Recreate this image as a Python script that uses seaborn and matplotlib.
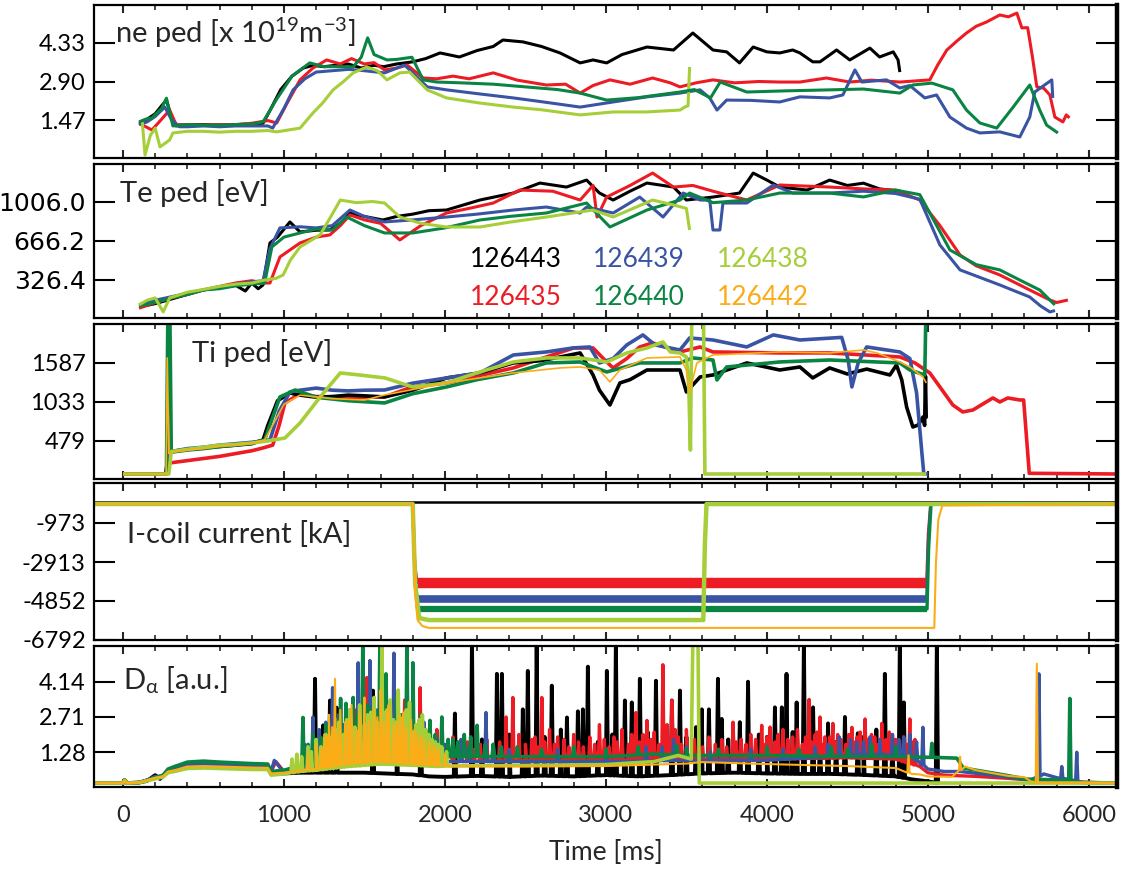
import numpy as np
import matplotlib
matplotlib.use("Agg")
import matplotlib.pyplot as plt
from matplotlib.ticker import MultipleLocator
import seaborn as sns

sns.set_style("white")
plt.rcParams['font.family'] = ['Lato', 'DejaVu Sans']
plt.rcParams['mathtext.fontset'] = 'custom'
plt.rcParams['mathtext.rm'] = 'Lato'
plt.rcParams['mathtext.it'] = 'Lato:italic'
plt.rcParams['mathtext.bf'] = 'Lato:bold'
plt.rcParams['lines.solid_capstyle'] = 'butt'

# ---------------- colours / shots ----------------
shots = ["126443", "126439", "126438", "126435", "126440", "126442"]
C_BLACK, C_BLUE, C_LIME = "#000000", "#3a54a4", "#a6ce39"
C_RED, C_GREEN, C_ORANGE = "#ed1c24", "#0a8443", "#fbad18"
shot_colors = [C_BLACK, C_BLUE, C_LIME, C_RED, C_GREEN, C_ORANGE]

x_ticks = [0, 1000, 2000, 3000, 4000, 5000, 6000]
x_range = [-180, 6175]

# ---------------- panel 1 : ne ped ----------------
ne_ticks = [1.47, 2.90, 4.33]
ne_labels = ["1.47", "2.90", "4.33"]
ne_black_t = [100,150,200,240,270,300,330,400,500,600,700,800,870,920,980,1050,1120,1180,1250,1320,1400,1480,1560,1620,1700,1800,1880,1970,2090,2200,2300,2360,2485,2600,2715,2840,2920,3005,3100,3255,3420,3540,3665,3750,3830,3915,4000,4080,4160,4205,4285,4330,4433,4515,4640,4700,4785,4815,4826]
ne_black_v = [1.35,1.5,1.7,2.0,2.21,1.6,1.25,1.3,1.3,1.28,1.3,1.32,1.35,1.9,2.6,3.1,3.4,3.5,3.45,3.5,3.55,3.4,3.5,3.45,3.55,3.63,3.75,3.96,3.81,4.05,4.2,4.44,4.37,4.2,3.96,3.59,3.7,3.59,3.9,4.18,4.07,4.7,4.07,4.0,3.59,4.18,4.0,3.96,4.07,3.96,3.63,3.63,4.07,3.7,4.14,3.81,4.0,3.7,3.25]
ne_red_t = [100,180,240,290,330,400,500,600,700,800,900,955,1020,1100,1180,1265,1350,1420,1500,1560,1625,1700,1765,1865,1950,2050,2150,2300,2450,2630,2750,2840,2920,3025,3150,3290,3400,3460,3560,3665,3800,3950,4080,4205,4370,4515,4650,4826,4920,5012,5060,5118,5180,5240,5300,5365,5447,5500,5553,5584,5620,5650,5677,5720,5758,5789,5839,5860,5880]
ne_red_v = [1.35,1.1,1.5,1.84,1.3,1.3,1.28,1.3,1.3,1.35,1.45,1.36,2.1,2.96,3.4,3.7,3.55,3.75,3.55,3.6,3.33,3.4,3.51,3.03,3.0,3.1,3.0,3.22,2.95,2.77,2.8,2.47,2.75,2.96,2.8,3.03,2.85,2.70,2.85,2.96,2.85,2.9,2.88,2.88,3.03,2.88,2.95,2.88,2.92,2.96,3.5,4.07,4.4,4.70,4.95,5.11,5.37,5.3,5.44,4.89,4.9,3.8,2.70,2.65,2.40,1.58,1.40,1.66,1.55]
ne_blue_t = [100,150,200,260,300,350,400,500,600,700,800,900,930,1000,1057,1130,1200,1300,1400,1500,1625,1750,1890,2010,2200,2425,2600,2840,3045,3255,3460,3585,3645,3690,3750,3900,4080,4205,4390,4472,4547,4590,4743,4826,4888,4981,5054,5137,5240,5323,5447,5571,5633,5664,5770,5776]
ne_blue_v = [1.3,1.4,1.6,1.95,1.5,1.22,1.22,1.25,1.22,1.25,1.25,1.25,1.17,1.9,2.59,3.0,3.25,3.3,3.35,3.3,3.22,3.51,2.70,2.59,2.45,2.29,2.15,1.95,2.14,2.33,2.47,2.59,2.29,1.84,2.21,2.2,2.14,2.33,2.29,2.4,3.33,2.88,2.96,2.66,2.75,2.29,2.40,1.58,1.17,0.99,1.03,0.84,1.58,2.51,2.96,2.29]
ne_green_t = [100,140,180,240,270,310,400,500,600,700,800,870,950,1050,1160,1250,1350,1430,1480,1520,1560,1640,1700,1795,1865,1950,2100,2300,2500,2700,2840,3005,3200,3460,3550,3650,3710,3875,4100,4390,4600,4826,4907,5025,5155,5240,5323,5428,5530,5633,5695,5738,5808]
ne_green_v = [1.4,1.5,1.55,1.9,2.28,1.25,1.3,1.28,1.28,1.3,1.32,1.4,2.2,3.1,3.59,3.45,3.45,3.44,3.8,4.52,3.9,3.7,3.72,3.8,2.96,2.88,2.85,2.8,2.7,2.6,2.47,2.21,2.3,2.51,2.6,2.29,2.88,2.51,2.55,2.59,2.62,2.47,2.77,2.84,2.59,1.84,1.36,1.17,1.95,2.77,1.84,1.28,0.99]
ne_lime_t = [120,137,170,200,230,290,310,400,500,600,700,800,900,955,1100,1180,1240,1305,1370,1430,1515,1580,1640,1720,1780,1890,2010,2217,2425,2600,2840,3045,3255,3460,3490,3510,3520]
ne_lime_v = [1.4,0.17,0.9,1.17,0.47,0.73,0.99,1.05,1.05,1.02,1.05,1.05,1.08,1.03,1.17,1.73,2.1,2.59,2.9,3.22,3.44,3.3,2.96,3.22,3.25,2.59,2.29,2.10,1.95,1.85,1.66,1.77,1.77,1.84,1.95,2.0,3.44]

# ---------------- panel 2 : Te ped ----------------
te_ticks = [326.4, 666.2, 1006.0]
te_labels = ["326.4", "666.2", "1006.0"]
te_black_t = [100,200,300,400,500,600,700,760,800,840,870,913,960,1037,1100,1200,1285,1350,1410,1500,1615,1700,1800,1900,2010,2217,2425,2590,2755,2880,2960,3045,3150,3255,3420,3500,3665,3830,3915,4000,4080,4250,4390,4500,4600,4700,4826]
te_black_v = [91,120,160,200,239,260,280,230,300,250,283,649,700,832,745,760,762,820,910,880,849,880,900,930,936,1023,1084,1171,1136,1197,1084,1023,1100,1171,1136,1023,1049,1084,1258,1197,1136,1110,1197,1150,1170,1120,1100]
te_red_t = [100,200,300,400,500,600,700,800,870,913,975,1100,1200,1285,1350,1410,1500,1600,1720,1850,2010,2150,2300,2465,2670,2840,2920,2945,3005,3150,3290,3420,3540,3665,3875,4080,4390,4600,4800,4950,5075,5200,5300,5447,5633,5758,5800,5870]
te_red_v = [80,130,170,200,240,270,300,320,300,300,527,649,700,719,800,893,850,820,675,800,910,950,997,1110,1100,1023,1150,875,1049,1150,1258,1136,1150,1100,1023,1154,1136,1120,1110,1023,800,544,450,370,239,152,130,152]
te_blue_t = [100,200,300,400,500,600,700,800,870,913,975,1100,1200,1300,1410,1500,1625,1800,2010,2200,2425,2630,2840,2880,3045,3210,3355,3480,3585,3645,3665,3708,3727,3875,4040,4160,4390,4600,4800,4950,5075,5200,5447,5633,5700,5758,5790]
te_blue_v = [110,150,180,210,240,260,290,310,320,600,780,790,780,800,936,880,832,850,875,900,936,962,910,962,910,1049,875,1084,1023,1023,762,762,997,997,1154,1084,1084,1100,1080,1030,631,414,283,178,100,48,60]
te_green_t = [100,200,300,400,500,600,700,800,880,925,1000,1100,1200,1300,1390,1500,1625,1800,2000,2217,2400,2630,2880,3025,3255,3460,3520,3665,3875,4080,4390,4600,4800,4950,5137,5300,5447,5571,5695,5789]
te_green_v = [100,130,170,200,240,250,275,290,300,614,700,736,770,762,875,800,736,736,780,849,880,910,997,788,936,1023,1084,1000,1023,1084,1084,1050,1110,1070,588,460,414,326,239,109]
te_lime_t = [100,150,200,250,290,400,480,600,700,800,880,950,995,1040,1100,1225,1300,1350,1450,1550,1625,1720,1850,2010,2217,2400,2630,2920,3045,3290,3420,3500,3520]
te_lime_v = [110,150,170,48,170,220,239,270,290,300,326,340,370,500,614,720,900,1023,1000,1010,997,875,820,788,788,830,875,936,875,1023,980,950,762]

# ---------------- panel 3 : Ti ped ----------------
ti_ticks = [479, 1033, 1587]
ti_labels = ["479", "1033", "1587"]
ti_black_t = [0,265,285,300,400,500,600,700,800,870,900,960,1037,1100,1200,1300,1400,1500,1625,1800,2010,2217,2425,2600,2715,2840,2920,2960,3025,3087,3150,3255,3460,3500,3585,3665,3875,4080,4205,4285,4390,4500,4620,4764,4805,4838,4868,4907,4940,4970,4980,4985,4990]
ti_black_v = [10,10,300,330,360,380,400,420,440,493,700,1050,1160,1130,1100,1110,1130,1120,1104,1200,1374,1445,1587,1620,1672,1729,1416,1200,990,1303,1350,1487,1487,1175,1388,1416,1587,1487,1530,1374,1516,1430,1500,1416,1558,1345,962,678,706,820,700,1400,800]
ti_blue_t = [0,265,285,300,400,500,600,700,800,870,913,970,1037,1100,1200,1300,1400,1500,1625,1800,2010,2217,2425,2630,2795,2900,2960,3045,3130,3230,3305,3460,3520,3665,3875,4040,4205,4410,4465,4505,4528,4567,4620,4826,4888,4930,4963,4975,5000]
ti_blue_v = [10,10,310,330,370,390,420,440,460,480,493,900,1175,1200,1230,1200,1190,1200,1203,1300,1374,1445,1700,1743,1800,1814,1587,1650,1843,1985,1843,1771,1942,1913,1814,1985,1913,1942,1950,1629,1246,1587,1814,1743,1650,1161,308,10,10]
ti_red_t = [0,265,285,300,400,500,600,700,800,870,930,970,1006,1100,1200,1400,1625,1800,2010,2200,2425,2630,2800,2920,3005,3045,3130,3210,3290,3460,3585,3665,4080,4390,4826,4920,5012,5075,5155,5217,5280,5404,5447,5497,5571,5595,5630,6175]
ti_red_v = [10,10,170,170,200,230,260,300,340,380,420,700,1019,1150,1110,1100,1104,1250,1303,1400,1516,1672,1800,1800,1601,1516,1650,1814,1871,1743,1814,1743,1729,1729,1672,1587,1445,1246,990,891,919,1090,1033,1090,1061,1061,20,10]
ti_green_t = [0,270,280,290,300,400,500,600,700,800,880,975,1070,1200,1400,1625,1800,2010,2200,2425,2630,2840,3005,3210,3460,3540,3665,3690,3750,4080,4390,4826,4888,4981,4990]
ti_green_v = [10,10,2600,2600,320,350,370,400,420,450,493,1104,1203,1100,1050,1019,1150,1246,1350,1445,1587,1601,1459,1587,1587,1658,1629,1345,1530,1601,1629,1587,1487,1416,2600]
ti_orange_t = [0,268,275,285,300,400,500,600,700,800,880,1000,1100,1300,1500,1625,2010,2425,2715,2840,2960,3025,3087,3255,3460,3500,3520,3565,3665,4080,4390,4600,4683,4826,4888,4970,4990]
ti_orange_v = [10,10,1658,300,320,350,370,400,420,450,493,1000,1130,1080,1060,1132,1303,1445,1516,1530,1487,1317,1487,1658,1672,1487,1175,1587,1700,1743,1729,1771,1729,1601,1530,1388,1303]
ti_lime_t = [0,285,300,400,500,600,700,800,900,1006,1100,1225,1350,1470,1627,1800,2010,2217,2425,2630,2840,3005,3130,3255,3355,3400,3460,3500,3515,3525,3535,3605,3615,4990]
ti_lime_v = [10,10,330,360,390,420,430,450,480,521,735,1104,1445,1416,1374,1246,1303,1459,1601,1658,1658,1601,1729,1800,1885,1743,1729,1672,1246,350,2600,2600,10,10]

# ---------------- panel 4 : I-coil current ----------------
ic_ticks = [-6792, -4852, -2913, -973]
ic_labels = ["-6792", "-4852", "-2913", "-973"]
ic_black_t = [-180, 6175]
ic_black_v = [60, 60]
ic_red_t = [-180, 1800, 1815, 1830, 4990, 5000, 5015, 6175]
ic_red_v = [-30, -30, -3000, -3955, -3955, -1500, -30, -30]
ic_blue_t = [-180, 1800, 1815, 1830, 4990, 5000, 5015, 6175]
ic_blue_v = [-30, -30, -3500, -4750, -4750, -2000, -30, -30]
ic_green_t = [-180, 1800, 1815, 1830, 4995, 5005, 5020, 6175]
ic_green_v = [-30, -30, -3800, -5247, -5247, -2200, -30, -30]
ic_orange_t = [-180, 1800, 1815, 1830, 1860, 1900, 5040, 5050, 5065, 5090, 6175]
ic_orange_v = [-30, -30, -4500, -5800, -6100, -6190, -6190, -3000, -800, -100, -30]
ic_lime_t = [-180, 1800, 1815, 1840, 1900, 3605, 3615, 3625, 6175]
ic_lime_v = [-30, -30, -4000, -5700, -5800, -5800, -2000, -30, -30]

# ---------------- panel 5 : D-alpha ----------------
da_ticks = [1.28, 2.71, 4.14]
da_labels = ["1.28", "2.71", "4.14"]
da_black_t = [-180,0,10,25,100,150,200,230,280,320,400,500,600,700,800,900,920,1000,1100,1300,1500,1700,1800,1900,2000,2200,2400,2600,2800,3000,3200,3400,3600,3800,4000,4200,4400,4600,4800,4900,5000,5070]
da_black_v = [0.03,0.03,0.15,0.03,0.05,0.12,0.35,0.2,0.55,0.62,0.78,0.8,0.75,0.72,0.7,0.68,0.42,0.42,0.45,0.45,0.45,0.4,0.38,0.3,0.28,0.32,0.28,0.33,0.3,0.35,0.3,0.35,0.42,0.45,0.42,0.4,0.4,0.36,0.3,0.18,0.1,0.03]
da_black_spk_t = [1193,1243,1286,1327,1553,1700,1850,2062,2168,2230,2323,2354,2400,2484,2515,2570,2620,2664,2720,2758,2826,2857,2888,2950,3006,3040,3062,3118,3161,3211,3260,3311,3410,3460,3500,3560,3596,3640,3696,3720,3760,3832,3883,3950,4000,4050,4093,4122,4160,4185,4230,4287,4330,4380,4430,4485,4565,4600,4680,4733,4780,4826,4851,5056]
da_black_spk_v = [4.26,2.37,3.38,3.09,3.78,3.0,2.5,2.85,5.8,1.8,4.46,4.46,2.0,3.02,4.58,5.8,1.9,3.98,2.2,2.69,2.94,3.02,4.75,1.7,4.58,2.0,5.8,3.38,3.3,4.26,2.1,4.18,3.38,3.78,1.9,2.3,3.02,3.02,4.26,2.63,1.8,2.5,4.14,2.0,1.9,3.1,3.1,4.46,2.1,3.3,5.8,3.1,1.8,2.45,1.7,2.71,2.05,1.9,2.2,4.46,1.6,5.8,3.3,5.8]
da_red_t = [-180,0,10,25,100,150,200,250,280,320,400,500,600,700,800,900,920,950,1000,1200,1400,1600,1800,1900,2000,2500,3000,3500,4000,4500,4800,4950,5000,5100,5300,5500,5640,5900,6175]
da_red_v = [0.03,0.03,0.15,0.03,0.05,0.15,0.25,0.3,0.55,0.6,0.78,0.8,0.76,0.74,0.72,0.72,0.5,0.9,0.5,0.8,1.0,1.1,1.0,0.95,0.9,0.95,0.95,1.0,1.0,1.05,1.0,0.7,0.45,0.35,0.3,0.22,0.15,0.08,0.03]
da_red_spk_t = [1400,1450,1515,1600,1700,1750,1846,1950,2050,2100,2140,2180,2220,2260,2300,2340,2380,2422,2460,2500,2540,2560,2580,2602,2620,2650,2680,2700,2740,2770,2800,2830,2860,2900,2930,2960,2990,3020,3050,3070,3100,3140,3160,3186,3210,3230,3255,3280,3300,3330,3354,3380,3410,3430,3450,3470,3500,3550,3600,3640,3680,3720,3750,3790,3810,3840,3870,3900,3930,3968,3990,4000,4020,4050,4070,4100,4130,4160,4190,4220,4240,4262,4280,4300,4310,4330,4350,4360,4390,4410,4420,4440,4460,4490,4510,4528,4540,4560,4580,4610,4630,4650,4670,4690,4714,4740,4760,4780,4800,4820,4850,4870,4888,4900,4920]
da_red_spk_v = [2.5,3.0,4.31,3.2,2.8,3.4,3.9,2.2,1.9,1.5,1.7,1.4,1.6,1.8,1.5,1.7,2.71,3.5,2.0,1.6,1.8,1.9,1.5,3.5,1.7,2.2,1.6,1.9,1.8,1.5,2.0,1.7,1.5,1.9,1.6,2.4,1.8,1.5,1.9,1.7,2.2,1.6,2.0,2.89,1.7,2.0,2.57,1.8,2.1,1.6,4.83,2.4,3.38,2.2,1.9,1.6,2.2,1.8,1.5,1.9,1.6,1.8,1.5,2.5,1.7,1.8,1.6,2.0,1.8,2.37,1.6,1.9,2.3,1.7,2.0,2.2,1.8,1.9,2.2,1.6,1.9,3.42,1.7,2.0,2.1,2.71,1.6,1.9,1.9,2.45,1.7,2.0,1.8,1.6,2.0,2.29,1.7,1.9,2.1,2.63,1.8,2.0,1.9,1.6,2.45,1.8,2.1,2.0,1.8,1.7,1.9,1.6,2.63,1.7,1.8]
da_blue_t = [-180,0,10,25,100,150,200,250,280,320,400,500,600,700,800,900,920,940,1000,1200,1400,1600,1800,2000,2500,3000,3500,4000,4400,4700,4900,5000,5100,5200,5400,5640,5720,5800,5900,5960,6175]
da_blue_v = [0.03,0.03,0.15,0.03,0.05,0.15,0.3,0.3,0.55,0.6,0.78,0.8,0.76,0.74,0.72,0.72,0.5,0.95,0.45,0.8,0.95,1.0,0.95,0.9,0.9,0.9,0.95,0.95,1.1,1.2,1.1,0.6,0.5,0.5,0.35,0.15,0.4,0.25,0.15,0.05,0.03]
da_blue_spk_t = [1130,1180,1220,1260,1302,1340,1370,1400,1430,1461,1490,1534,1560,1580,1610,1650,1683,1720,1750,1780,1800,1830,1870,1900,1950,2000,2100,2150,2255,2300,2400,2700,3000,3250,3350,3420,3500,3650,3900,4100,4300,4380,4450,4520,4560,4600,4640,4700,4780,4820,4850,4890,4930,4969,5690,5832,5925]
da_blue_spk_v = [1.6,2.71,2.2,2.5,3.9,2.8,2.4,2.6,3.2,4.91,2.6,5.0,3.5,3.0,2.8,3.3,5.3,2.6,2.4,2.2,3.0,2.0,2.5,2.0,1.8,1.6,1.8,1.5,2.89,1.6,1.4,1.4,1.4,1.5,1.5,1.8,1.5,1.3,1.4,1.4,1.5,1.6,1.9,1.8,1.7,1.7,1.9,1.8,2.0,1.8,1.9,2.0,1.7,2.29,4.46,0.7,1.28]
da_green_t = [-180,0,10,25,100,150,200,250,280,320,400,500,600,700,800,900,920,1000,1200,1400,1600,1800,2000,2500,3000,3300,3500,4000,4500,4800,5000,5180,5220,5300,5447,5615,5840,5950,6175]
da_green_v = [0.03,0.03,0.15,0.03,0.05,0.15,0.25,0.35,0.6,0.7,0.88,0.92,0.88,0.85,0.82,0.8,0.5,0.55,0.9,1.1,1.2,1.1,1.1,1.1,1.1,1.2,1.15,1.15,1.1,1.1,1.08,1.04,0.64,0.55,0.39,0.19,0.15,0.05,0.03]
da_green_spk_t = [1118,1150,1180,1230,1260,1300,1330,1352,1385,1410,1430,1460,1490,1520,1550,1570,1596,1634,1660,1700,1730,1764,1780,1801,1830,1850,1880,1907,1940,1981,2020,2050,2080,2120,2160,2200,2250,2300,2350,2450,2600,2800,3000,3200,3440,3500,3700,4000,4200,4400,4500,4650,4800,5025,5882]
da_green_spk_v = [2.69,1.6,2.0,1.88,2.4,2.2,2.6,3.46,3.26,3.0,3.5,2.8,5.8,3.2,3.0,2.9,5.8,4.46,3.3,3.5,2.8,5.8,3.0,4.91,2.4,2.8,2.2,2.57,2.0,2.71,1.8,1.8,1.7,2.0,1.9,2.37,1.6,1.6,1.5,1.5,1.4,1.5,1.4,1.5,1.57,1.4,1.4,1.5,1.4,1.5,1.4,1.6,1.5,1.64,3.46]
da_orange_t = [-180,0,10,25,100,150,200,250,280,320,400,500,600,700,800,900,920,1000,1200,1400,1600,1800,2000,2500,3000,3500,3600,4000,4500,4800,4900,4950,5000,5150,5230,5300,5500,5600,5640,5700,6175]
da_orange_v = [0.03,0.03,0.15,0.03,0.05,0.15,0.25,0.3,0.5,0.55,0.7,0.72,0.7,0.68,0.66,0.65,0.42,0.45,0.6,0.8,0.9,0.8,0.72,0.7,0.72,0.82,0.88,0.8,0.72,0.64,0.4,0.38,0.3,0.28,0.7,0.55,0.32,0.27,0.1,0.04,0.03]
da_orange_spk_t = [1150,1200,1230,1250,1270,1280,1300,1317,1330,1350,1380,1400,1420,1450,1470,1500,1510,1530,1560,1580,1600,1620,1640,1650,1680,1700,1720,1740,1760,1790,1810,1830,1850,1870,1900,1920,1940,1960,2000,4880,5200,5677]
da_orange_spk_v = [1.2,1.6,1.4,2.0,1.9,2.8,2.3,4.26,2.0,3.0,2.5,2.6,3.2,2.2,2.9,3.5,2.4,2.6,3.0,2.7,3.8,2.5,2.9,3.2,2.4,2.5,2.8,2.9,2.3,2.6,2.2,2.0,1.9,1.8,1.7,1.6,1.5,1.4,1.2,1.16,1.1,4.87]
da_lime_t = [-180,0,10,25,100,150,200,250,280,320,400,500,600,700,800,900,920,1000,1100,1200,1400,1600,1800,1950,2000,2500,3000,3300,3450,3530,3540,3572,3580,6175]
da_lime_v = [0.03,0.03,0.15,0.03,0.05,0.12,0.2,0.28,0.45,0.5,0.62,0.64,0.62,0.6,0.58,0.58,0.35,0.4,0.5,0.55,0.7,0.8,0.75,0.7,0.72,0.75,0.78,0.9,1.15,1.0,5.8,5.8,0.03,0.03]
da_lime_spk_t = [1050,1080,1110,1150,1170,1200,1230,1260,1280,1300,1320,1340,1370,1390,1410,1440,1460,1470,1500,1520,1540,1560,1580,1609,1620,1640,1660,1680,1700,1710,1740,1760,1780,1800,1820,1840,1860,1880,1900,1920,1940,1960,1980,2010]
da_lime_spk_v = [1.0,1.2,1.1,1.5,1.3,1.8,1.5,2.0,1.9,1.7,2.2,2.5,2.0,2.6,3.0,2.3,2.1,3.2,2.4,2.8,2.9,3.5,2.5,5.8,2.9,3.0,3.4,2.6,2.5,3.8,2.7,3.0,3.3,2.1,2.4,2.6,2.8,2.2,2.0,1.8,1.7,1.6,1.5,1.3]


def with_spikes(bt, bv, st, sv, w=7.0):
    """Merge a base trace and its narrow spikes into one polyline."""
    pts = list(zip(bt, bv))
    for ts, vs in zip(st, sv):
        b = float(np.interp(ts, bt, bv))
        pts += [(ts - w, b), (ts, vs), (ts + w, b)]
    pts.sort(key=lambda p: p[0])
    return [p[0] for p in pts], [p[1] for p in pts]


def line(ax, t, v, color, lw):
    sns.lineplot(x=t, y=v, ax=ax, color=color, linewidth=lw,
                 estimator=None, sort=False, legend=False)


# ---------------- figure ----------------
W, H = 1131, 869
fig = plt.figure(figsize=(W / 100, H / 100), dpi=100)
left, right = 94, 1117
panels_px = [(5, 158), (164, 318), (324, 479), (483, 640), (646, 787)]
axes = []
for top, bot in panels_px:
    ax = fig.add_axes([left / W, 1 - bot / H, (right - left) / W, (bot - top) / H])
    axes.append(ax)
ax1, ax2, ax3, ax4, ax5 = axes

# panel 1
for t, v, c in [(ne_black_t, ne_black_v, C_BLACK), (ne_red_t, ne_red_v, C_RED),
                (ne_blue_t, ne_blue_v, C_BLUE), (ne_lime_t, ne_lime_v, C_LIME),
                (ne_green_t, ne_green_v, C_GREEN)]:
    line(ax1, t, v, c, 2.2)
ax1.set_ylim(0.06, 5.74)

# panel 2
for t, v, c in [(te_black_t, te_black_v, C_BLACK), (te_red_t, te_red_v, C_RED),
                (te_blue_t, te_blue_v, C_BLUE), (te_green_t, te_green_v, C_GREEN),
                (te_lime_t, te_lime_v, C_LIME)]:
    line(ax2, t, v, c, 2.2)
ax2.set_ylim(-5, 1337)

# panel 3
for t, v, c, lw in [(ti_red_t, ti_red_v, C_RED, 2.6), (ti_black_t, ti_black_v, C_BLACK, 2.6),
                    (ti_blue_t, ti_blue_v, C_BLUE, 2.6), (ti_green_t, ti_green_v, C_GREEN, 2.6),
                    (ti_lime_t, ti_lime_v, C_LIME, 2.6), (ti_orange_t, ti_orange_v, C_ORANGE, 1.2)]:
    line(ax3, t, v, c, lw)
ax3.set_ylim(-61, 2140)

# panel 4 : thin trace everywhere, thick (noisy) band on the flat-top plateau
for t, v, c, lw_thin, lw_plateau in [
        (ic_red_t, ic_red_v, C_RED, 1.6, 7.5), (ic_blue_t, ic_blue_v, C_BLUE, 1.6, 5.5),
        (ic_green_t, ic_green_v, C_GREEN, 2.4, 4.5)]:
    line(ax4, t, v, c, lw_thin)
    lo = min(v)
    idx = [i for i, val in enumerate(v) if val == lo]
    line(ax4, [t[i] for i in idx], [v[i] for i in idx], c, lw_plateau)
for t, v, c, lw in [(ic_black_t, ic_black_v, C_BLACK, 1.8),
                    (ic_lime_t, ic_lime_v, C_LIME, 3.2), (ic_orange_t, ic_orange_v, C_ORANGE, 1.5)]:
    line(ax4, t, v, c, lw)
ax4.set_ylim(-6792, 1016)

# panel 5
for bt, bv, st, sv, c, lw in [
        (da_black_t, da_black_v, da_black_spk_t, da_black_spk_v, C_BLACK, 2.8),
        (da_red_t, da_red_v, da_red_spk_t, da_red_spk_v, C_RED, 2.4),
        (da_blue_t, da_blue_v, da_blue_spk_t, da_blue_spk_v, C_BLUE, 2.4),
        (da_green_t, da_green_v, da_green_spk_t, da_green_spk_v, C_GREEN, 2.6),
        (da_lime_t, da_lime_v, da_lime_spk_t, da_lime_spk_v, C_LIME, 2.6),
        (da_orange_t, da_orange_v, da_orange_spk_t, da_orange_spk_v, C_ORANGE, 1.5)]:
    t, v = with_spikes(bt, bv, st, sv)
    line(ax5, t, v, c, lw)
ax5.set_ylim(-0.13, 5.59)

# ---------------- axes styling ----------------
yt = [(ax1, ne_ticks, ne_labels), (ax2, te_ticks, te_labels), (ax3, ti_ticks, ti_labels),
      (ax4, ic_ticks, ic_labels), (ax5, da_ticks, da_labels)]
for ax, ticks, labels in yt:
    ax.set_xlim(*x_range)
    ax.set_xticks(x_ticks)
    ax.xaxis.set_minor_locator(MultipleLocator(200))
    ax.set_yticks(ticks)
    ax.set_yticklabels(labels)
    ax.set_xlabel("")
    ax.set_ylabel("")
    for s in ax.spines.values():
        s.set_visible(True)
        s.set_color("black")
        s.set_linewidth(1.6)
    ax.spines["right"].set_linewidth(3.2)
    ax.tick_params(axis="y", which="major", direction="in", length=15, width=1.5,
                   left=True, right=True, labelsize=17, pad=6, colors="black")
    ax.tick_params(axis="x", which="major", direction="in", length=6, width=1.5,
                   top=True, bottom=True, labelsize=17, pad=13)
    ax.tick_params(axis="x", which="minor", direction="in", length=3.5, width=1.2,
                   top=True, bottom=True)
    if ax is not ax5:
        ax.tick_params(axis="x", labelbottom=False)
    ax.set_facecolor("white")

for lab in ax2.get_yticklabels():
    lab.set_fontfamily("DejaVu Sans")
    lab.set_fontsize(18)

ax5.set_xlabel("Time [ms]", fontsize=19, labelpad=10)

# panel titles
tfs = 21
ax1.text(0.0205, 0.752, "ne ped [x 10$^{19}$m$^{-3}$]", transform=ax1.transAxes, fontsize=tfs, va="baseline")
ax2.text(0.025, 0.753, "Te ped [eV]", transform=ax2.transAxes, fontsize=tfs, va="baseline")
ax3.text(0.096, 0.755, "Ti ped [eV]", transform=ax3.transAxes, fontsize=tfs, va="baseline")
ax4.text(0.032, 0.618, "I-coil current [kA]", transform=ax4.transAxes, fontsize=tfs, va="baseline")
ax5.text(0.028, 0.688, "D$_{\\mathrm{\\alpha}}$ [a.u.]", transform=ax5.transAxes, fontsize=tfs, va="baseline")

# shot legend (text, coloured)
leg_x = [(470 - left) / (right - left), (593 - left) / (right - left), (717 - left) / (right - left)]
leg_y = [0.331, 0.084]
for i, (s, c) in enumerate(zip(shots, shot_colors)):
    ax2.text(leg_x[i % 3], leg_y[i // 3], s, color=c, fontsize=19,
             transform=ax2.transAxes, va="baseline", ha="left")

fig.savefig("out.png", dpi=100)
